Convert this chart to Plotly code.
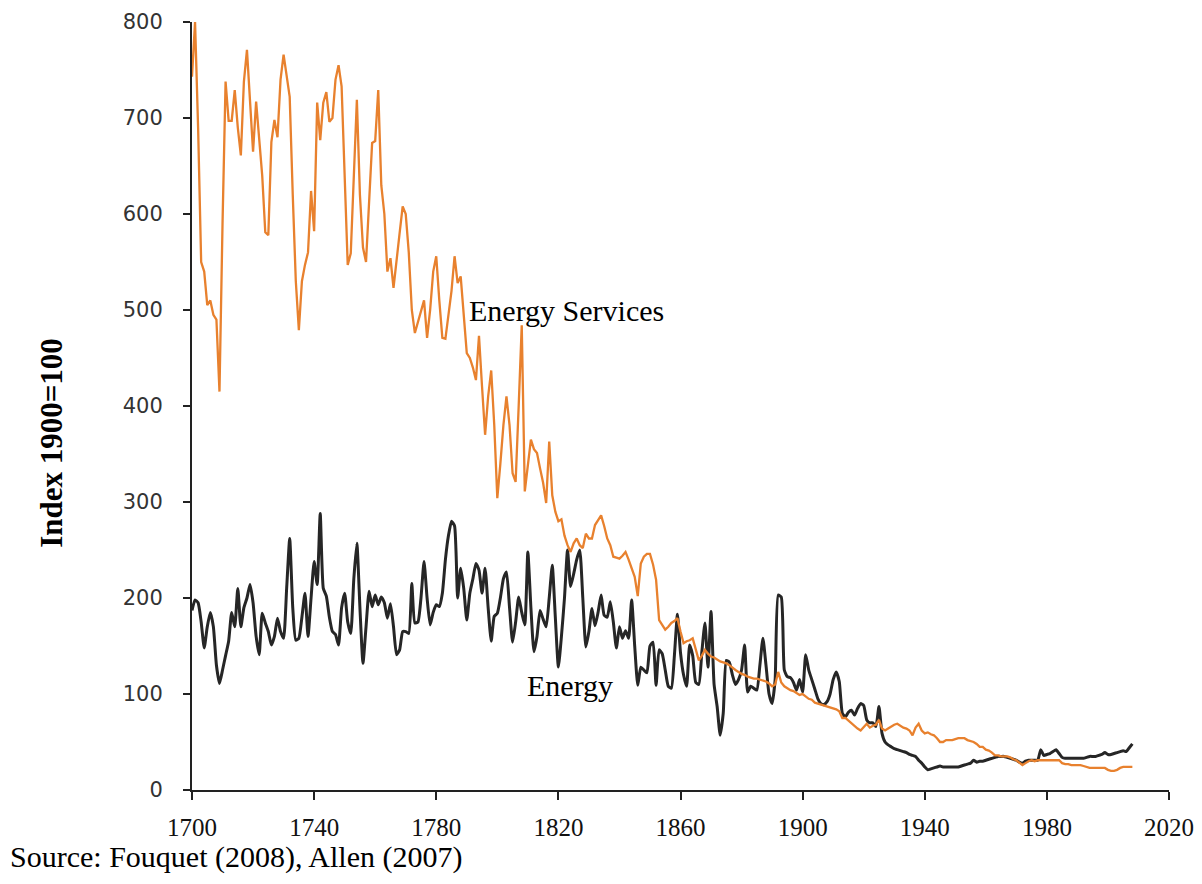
import plotly.graph_objects as go

years = list(range(1700, 2009))

energy_services = [
    743, 800, 690, 550, 540, 505, 510, 495, 490, 415,
    590, 738, 697, 697, 729, 690, 661, 738, 771, 720,
    665, 717, 680, 640, 581, 578, 675, 698, 680, 740,
    766, 745, 722, 620, 530, 479, 530, 547, 560, 624,
    582, 716, 677, 716, 727, 696, 700, 740, 755, 733,
    640, 547, 559, 640, 719, 620, 565, 550, 610, 674,
    676, 729, 630, 600, 540, 554, 523, 555, 580, 608,
    600, 560, 500, 476, 488, 500, 510, 471, 500, 540,
    556, 510, 471, 470, 495, 520, 556, 528, 535, 495,
    455, 450, 440, 427, 473, 420, 370, 410, 437, 380,
    304, 340, 380, 410, 380, 330, 321, 400, 484, 311,
    340, 365, 355, 351, 335, 320, 299, 363, 307, 290,
    280, 282, 265, 255, 248, 257, 262, 255, 252, 267,
    262, 262, 276, 281, 286, 275, 262, 255, 243, 242,
    241, 244, 248, 240, 230, 222, 202, 236, 243, 246,
    246, 235, 219, 177, 172, 167, 170, 174, 176, 179,
    165, 153, 155, 156, 158, 145, 135, 140, 146, 142,
    139, 138, 136, 134, 133, 132, 130, 127, 125, 123,
    121, 120, 118, 117, 116, 116, 115, 114, 113, 111,
    108, 110, 123, 112, 108, 106, 104, 103, 101, 99,
    100, 97, 95, 94, 91, 90, 89, 88, 87, 86,
    85, 84, 82, 75, 75, 72, 70, 66, 64, 62,
    66, 69, 65, 67, 68, 73, 64, 62, 64, 66,
    68, 69, 67, 65, 64, 62, 57, 65, 69, 62,
    59, 60, 58, 57, 54, 50, 50, 52, 52, 52,
    53, 54, 54, 54, 52, 51, 50, 48, 45, 45,
    42, 41, 39, 36, 36, 35, 35, 35, 34, 32,
    31, 28, 26, 28, 30, 31, 30, 31, 31, 31,
    31, 31, 31, 31, 31, 28, 27, 27, 26, 26,
    26, 26, 25, 24, 23, 23, 23, 23, 23, 23,
    21, 20, 20, 21, 23, 24, 24, 24, 24,
]

energy = [
    187, 198, 195, 175, 148, 170, 185, 170, 130, 111,
    125, 140, 155, 185, 170, 210, 170, 190, 200, 214,
    195, 160, 141, 184, 174, 165, 151, 160, 179, 165,
    158, 210, 262, 190, 156, 158, 180, 205, 160, 200,
    238, 214, 288, 210, 202, 180, 165, 162, 151, 190,
    205, 175, 163, 220, 257, 190, 132, 170, 207, 191,
    203, 193, 201, 195, 179, 194, 170, 141, 146, 165,
    165, 163, 215, 174, 175, 200, 238, 200, 172, 185,
    193, 191, 205, 240, 265, 280, 275, 200, 231, 210,
    177, 205, 220, 236, 229, 205, 231, 190, 155, 181,
    184, 200, 220, 227, 190, 154, 175, 201, 185, 172,
    248, 190, 144, 160, 187, 178, 170, 200, 234, 180,
    128, 160, 200, 250, 212, 225, 240, 250, 200, 149,
    165, 189, 171, 185, 203, 182, 180, 196, 175, 148,
    170, 158, 166, 158, 198, 150, 109, 128, 125, 122,
    150, 154, 109, 146, 142, 125, 108, 106, 140, 183,
    143, 120, 108, 151, 140, 112, 110, 144, 174, 128,
    186, 110, 87, 57, 80, 135, 133, 120, 110, 115,
    125, 151, 102, 108, 106, 104, 130, 158, 130, 100,
    90, 115, 203, 201, 125, 118, 117, 112, 104, 115,
    102, 141, 125, 115, 105, 95, 90, 89, 92, 100,
    115, 123, 113, 80, 76, 81, 83, 78, 85, 90,
    88, 73, 70, 70, 66, 87, 59, 50, 47, 45,
    43, 42, 41, 40, 39, 37, 36, 35, 31, 28,
    24, 21, 22, 23, 24, 25, 24, 24, 24, 24,
    24, 24, 25, 26, 27, 28, 31, 29, 30, 30,
    31, 32, 33, 34, 35, 35, 35, 34, 33, 32,
    31, 29, 28, 30, 31, 31, 31, 31, 42, 36,
    37, 38, 40, 42, 38, 34, 33, 33, 33, 33,
    33, 33, 33, 34, 35, 35, 35, 36, 37, 39,
    37, 37, 38, 39, 40, 41, 40, 44, 48,
]

x_ticks = [1700, 1740, 1780, 1820, 1860, 1900, 1940, 1980, 2020]
y_ticks = [0, 100, 200, 300, 400, 500, 600, 700, 800]

fig = go.Figure()
fig.add_trace(go.Scatter(
    x=years, y=energy, mode="lines", name="Energy",
    line=dict(color="#262626", width=3, shape="spline", smoothing=0.5),
))
fig.add_trace(go.Scatter(
    x=years, y=energy_services, mode="lines", name="Energy Services",
    line=dict(color="#E8812E", width=2.3),
))

fig.update_layout(
    width=1194, height=876,
    margin=dict(l=184, r=33, t=14, b=94, autoexpand=False),
    plot_bgcolor="white", paper_bgcolor="white",
    showlegend=False,
    xaxis=dict(
        range=[1700, 2020], tickvals=x_ticks, ticktext=[str(v) for v in x_ticks],
        ticks="outside", ticklen=8, tickwidth=1.5, tickcolor="#222",
        showline=True, linecolor="#222", linewidth=2,
        showgrid=False, zeroline=False, automargin=False,
        tickfont=dict(family="Liberation Serif", size=25, color="#111"),
        ticklabelstandoff=6,
    ),
    yaxis=dict(
        range=[0, 800], tickvals=y_ticks,
        ticks="outside", ticklen=7, tickwidth=1.5, tickcolor="#222",
        showline=True, linecolor="#222", linewidth=2,
        showgrid=False, zeroline=False, automargin=False,
        tickfont=dict(family="DejaVu Sans", size=21, color="#333"),
        ticklabelstandoff=16,
    ),
    annotations=[
        dict(x=1822.8, y=499, xref="x", yref="y", text="Energy Services",
             showarrow=False, font=dict(family="Liberation Serif", size=30, color="black")),
        dict(x=1823.8, y=109, xref="x", yref="y", text="Energy",
             showarrow=False, font=dict(family="Liberation Serif", size=30, color="black")),
        dict(x=-0.1433, y=0.452, xref="paper", yref="paper", text="<b>Index 1900=100</b>",
             xanchor="center", yanchor="middle",
             textangle=-90, showarrow=False,
             font=dict(family="Liberation Serif", size=31, color="black")),
        dict(x=-0.1883, y=-0.0872, xref="paper", yref="paper", xanchor="left", yanchor="middle",
             text="Source: Fouquet (2008), Allen (2007)", showarrow=False,
             font=dict(family="Liberation Serif", size=30, color="black")),
    ],
)

fig.write_html("out.html")
